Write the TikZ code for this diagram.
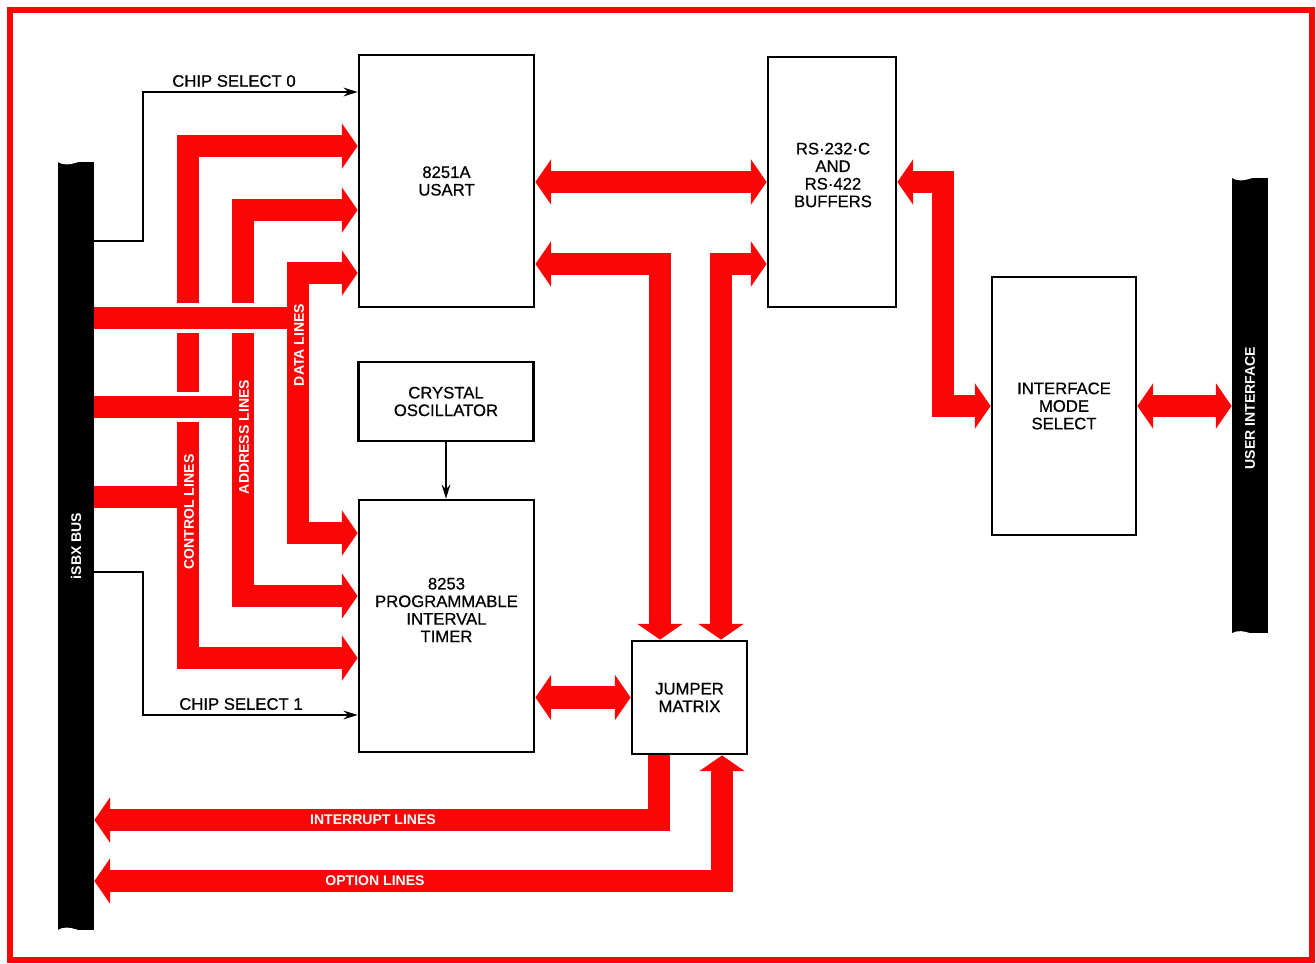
\documentclass[tikz,border=0pt]{standalone}
\usepackage{fontspec}
\setmainfont{Liberation Sans}
\newfontfamily\boxfont{Liberation Sans}[FakeBold=0.6]
\usepackage{xcolor}
\usetikzlibrary{arrows.meta}
\definecolor{busred}{RGB}{250,6,6}

\begin{document}
\begin{tikzpicture}[x=0.02cm, y=-0.02cm,
  block/.style={draw, line width=1.6pt, inner sep=0pt, align=center,
    font=\boxfont\fontsize{9.5}{10}\selectfont},
  busbar/.style={fill=black, inner sep=0pt, minimum width=0.72cm},
  onred/.style={text=white, inner sep=0pt, font=\bfseries\fontsize{8}{8}\selectfont},
  wirelabel/.style={inner sep=0pt, font=\boxfont\fontsize{9.5}{10}\selectfont},
  wire/.style={line width=0.8pt, -{Stealth[length=8pt,width=5pt]}},
  redline/.style={draw=busred, line width=13pt, line cap=butt, line join=miter},
  twoway/.style={redline, {Triangle[length=9pt,width=26pt,line width=0pt]}-{Triangle[length=9pt,width=26pt,line width=0pt]}},
  oneway/.style={redline, -{Triangle[length=9pt,width=26pt,line width=0pt]}},
  gap/.style={draw=white, line width=17.5pt, line cap=butt}]

  \useasboundingbox (0,0) rectangle (1316,964);

  %% Frame
  \draw[busred, line width=3pt] (10,10) rectangle (1312,960);

  %% Bus bars
  \node[busbar, minimum height=15.36cm] (isbx) at (76,546) {};
  \node[busbar, minimum height=9.1cm] (uibus) at (1250,405.5) {};

  %% Blocks
  \node[block, minimum width=3.5cm, minimum height=5.04cm] (usart) at (446.5,181) {8251A\\USART};
  \node[block, minimum width=3.5cm, minimum height=1.58cm] (xtal) at (446,401.5) {CRYSTAL\\OSCILLATOR};
  \node[block, minimum width=3.5cm, minimum height=5.04cm] (timer) at (446.5,626) {};
  \node[wirelabel, align=center] (timertext) at (446.5,610) {8253\\PROGRAMMABLE\\INTERVAL\\TIMER};
  \node[block, minimum width=2.56cm, minimum height=5cm] (buffers) at (832,182) {};
  \node[wirelabel, align=center] (bufferstext) at (833,175) {RS·232·C\\AND\\RS·422\\BUFFERS};
  \node[block, minimum width=2.88cm, minimum height=5.16cm] (modesel) at (1064,406) {INTERFACE\\MODE\\SELECT};
  \node[block, minimum width=2.3cm, minimum height=2.26cm] (jumper) at (689.5,697.5) {JUMPER\\MATRIX};

  %% Chip selects and clock
  \coordinate (cs0bend) at (143,92);
  \coordinate (cs1bend) at (143,715);
  \draw[wire] (isbx.east |- 0,241) -| (cs0bend) -- (usart.west |- cs0bend);
  \draw[wire] (isbx.east |- 0,572) -| (cs1bend) -- (timer.west |- cs1bend);
  \draw[wire] (xtal.south) -- (xtal.south |- timer.north);
  \node[wirelabel] (cs0label) at (234,81) {CHIP SELECT 0};
  \node[wirelabel] (cs1label) at (241,704) {CHIP SELECT 1};

  %% Control, address and data lines
  \draw[twoway] (usart.west |- 0,146) -- (188,146) -- (188,658) -- (timer.west |- 0,658);
  \draw[twoway] (usart.west |- 0,210) -- (243,210) -- (243,596) -- (timer.west |- 0,596);
  \draw[twoway] (usart.west |- 0,273) -- (298,273) -- (298,533) -- (timer.west |- 0,533);
  \draw[gap] (isbx.east |- 0,318) -- (287,318);
  \draw[gap] (isbx.east |- 0,407) -- (231,407);
  \draw[redline] (isbx.east |- 0,318) -- (298,318);
  \draw[redline] (isbx.east |- 0,407) -- (243,407);
  \draw[redline] (isbx.east |- 0,497) -- (188,497);

  %% Serial side
  \draw[twoway] (usart.east |- buffers.west) -- (buffers.west);
  \draw[twoway] (usart.east |- 0,264) -| (660,0 |- jumper.north);
  \draw[twoway] (buffers.west |- 0,264) -| (721,0 |- jumper.north);
  \draw[twoway] (timer.east |- jumper.west) -- (jumper.west);
  \draw[twoway] (buffers.east) -| (943,0 |- modesel.west) -- (modesel.west);
  \draw[twoway] (modesel.east) -- (modesel.east -| uibus.west);

  %% Interrupt and option lines
  \draw[oneway] (659,0 |- jumper.south) |- (isbx.east |- 0,820);
  \draw[twoway] (722,0 |- jumper.south) |- (isbx.east |- 0,881);

  %% Labels on the lines
  \node[onred, rotate=90] (ctllabel) at (189,512) {CONTROL LINES};
  \node[onred, rotate=90] (addrlabel) at (244,437) {ADDRESS LINES};
  \node[onred, rotate=90] (datalabel) at (299,345) {DATA LINES};
  \node[onred] (intlabel) at (373,820) {INTERRUPT LINES};
  \node[onred] (optlabel) at (375,881) {OPTION LINES};
  \node[onred, rotate=90] (isbxlabel) at (isbx.center) {iSBX BUS};
  \node[onred, rotate=90] (uilabel) at (1250,408) {USER INTERFACE};

  %% Torn ends of the bus bars
  \fill[white] (isbx.north west) .. controls (70,170) and (82,156) .. (isbx.north east) -- cycle;
  \fill[white] (isbx.south west) .. controls (70,922) and (82,936) .. (isbx.south east) -- cycle;
  \fill[white] (uibus.north west) .. controls (1244,186) and (1256,172) .. (uibus.north east) -- cycle;
  \fill[white] (uibus.south west) .. controls (1244,626) and (1256,640) .. (uibus.south east) -- cycle;
\end{tikzpicture}
\end{document}
